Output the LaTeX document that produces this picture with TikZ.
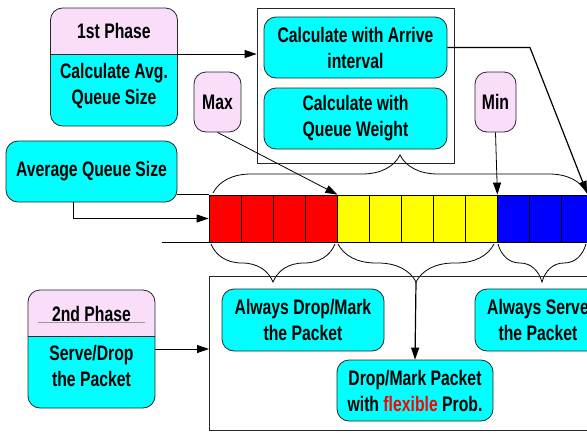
\documentclass[tikz,border=0pt]{standalone}
\usepackage{fontspec}
\setmainfont{Liberation Sans}[FakeStretch=0.75]
\usetikzlibrary{arrows.meta,decorations.pathreplacing}
\definecolor{boxcyan}{RGB}{0,255,255}
\definecolor{phasepink}{RGB}{249,221,249}
\definecolor{qred}{RGB}{255,0,0}
\definecolor{qyellow}{RGB}{255,255,0}
\definecolor{qblue}{RGB}{0,0,255}
\begin{document}
\begin{tikzpicture}[x=1pt,y=-1pt,line width=0.8pt]
  \tikzstyle{txt}=[font=\fontsize{21}{26}\selectfont\bfseries, align=center, inner sep=0pt]
  \tikzstyle{cbox}=[txt, draw=black!85, fill=boxcyan, rounded corners=12pt]
  \tikzstyle{tag}=[txt, draw=black!85, fill=phasepink, rounded corners=12pt]
  \tikzstyle{phase}=[draw=black!85, fill=boxcyan, rounded corners=12pt, minimum width=127pt, minimum height=118pt,
    path picture={\fill[phasepink, sharp corners] (path picture bounding box.north west) rectangle ([yshift=-46pt]path picture bounding box.north east);
      \draw[black!85] ([yshift=-46pt]path picture bounding box.north west) -- ([yshift=-46pt]path picture bounding box.north east);}]
  \tikzstyle{frame}=[draw=black!85, inner sep=0pt]
  \tikzstyle{cell}=[draw, minimum width=32pt, minimum height=47pt, inner sep=0pt]
  \tikzstyle{line}=[draw, -{Triangle[length=12pt,width=8pt]}]
  \tikzstyle{brace}=[draw, decorate, decoration={brace,amplitude=38pt}]
  \useasboundingbox (0,0) rectangle (587,432);
  % first phase
  \node[phase] (phaseone) at (114,67) {};
  \node[txt] (phaseonetitle) at (114,31) {1st Phase};
  \node[txt] (phaseonebody) at (114,86) {Calculate Avg.\\Queue Size};
  \node[frame, minimum width=197pt, minimum height=155pt] (upperframe) at (355.5,85.5) {};
  \node[cbox, minimum width=183pt, minimum height=61pt] (arrive) at (355.5,47.5) {Calculate with Arrive\\interval};
  \node[cbox, minimum width=183pt, minimum height=61pt] (weight) at (355.5,118.5) {Calculate with\\Queue Weight};
  \node[tag, minimum width=47pt, minimum height=60pt] (max) at (217.5,102) {Max};
  \node[tag, minimum width=41pt, minimum height=60pt] (min) at (495.5,102) {Min};
  \node[cbox, minimum width=171pt, minimum height=61pt] (avg) at (91.5,171.5) {Average Queue Size};
  % queue
  \foreach \i/\col in {0/qred,1/qred,2/qred,3/qred,4/qyellow,5/qyellow,6/qyellow,7/qyellow,8/qyellow,9/qblue,10/qblue,11/qblue}
    \node[cell, fill=\col] (c\i) at (225+32*\i,218.5) {};
  \draw (c0.north west) -- ++(-32,0);
  \draw (c0.south west) -- ++(-47,0);
  % braces
  \draw[brace] (213,193) -- (587,193);
  \draw[brace] (335,244) -- (211,244);
  \draw[brace] (494,244) -- (338,244);
  \draw[brace] (586,244) -- (498,244);
  \coordinate (yellowtip) at (416,282);
  \coordinate (arrivebend) at (530,47.5);
  \coordinate (bluetip) at (587,193);
  % second phase
  \node[frame, minimum width=400pt, minimum height=154pt, anchor=north west] (lowerframe) at (209,276) {};
  \node[phase] (phasetwo) at (91.5,349) {};
  \draw[black!40, line width=0.6pt] ([xshift=10pt,yshift=27pt]phasetwo.west) -- ([xshift=-10pt,yshift=27pt]phasetwo.east);
  \node[txt] (phasetwotitle) at (91.5,314) {2nd Phase};
  \node[txt] (phasetwobody) at (91.5,366) {Serve/Drop\\the Packet};
  \node[cbox, minimum width=162pt, minimum height=62pt] (alwaysdrop) at (303,320) {Always Drop/Mark\\the Packet};
  \node[cbox, minimum width=126pt, minimum height=62pt] (alwaysserve) at (538,320) {Always Serve\\the Packet};
  \node[cbox, minimum width=156pt, minimum height=61pt] (flexdrop) at (415,390.5) {Drop/Mark Packet\\with \textcolor{qred}{flexible} Prob.};
  % arrows
  \draw[line] ([yshift=13pt]phaseone.east) -- ([yshift=13pt]phaseone.east -| upperframe.west);
  \draw[line, line width=1.2pt] (arrive.east) -- (arrivebend) -- (bluetip);
  \draw[line] (max.south) -- (c3.north east);
  \draw[line] (min.south) -- (c8.north east);
  \draw[line] ([xshift=-18.5pt]avg.south) |- (c0.west);
  \draw[line, line width=1.2pt] (yellowtip) -- (flexdrop.north);
  \draw[line] (phasetwo.east) -- (phasetwo.east -| lowerframe.west);
\end{tikzpicture}
\end{document}
